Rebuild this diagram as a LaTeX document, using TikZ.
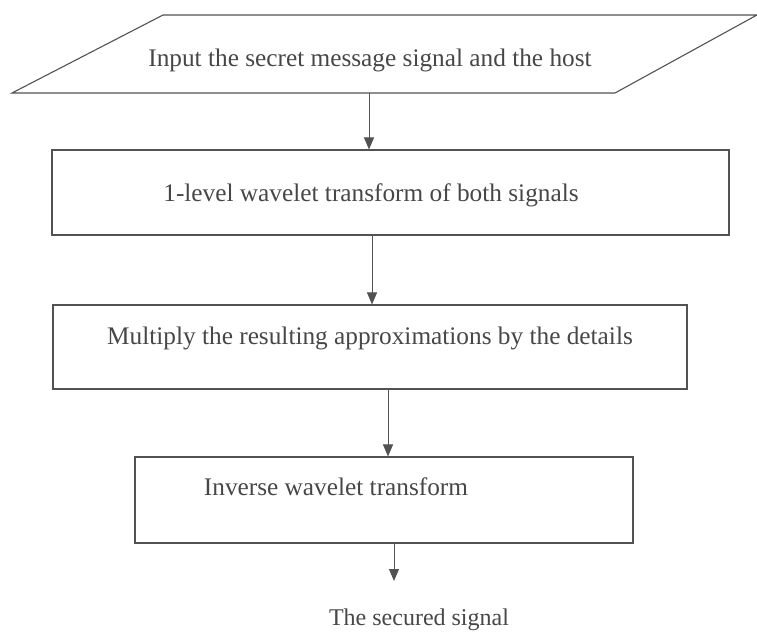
\documentclass[tikz,border=0pt]{standalone}
\usepackage{fontspec}
\setmainfont{Liberation Serif}
\usetikzlibrary{arrows.meta}
\definecolor{ink}{gray}{0.32}
\definecolor{txtc}{gray}{0.28}
\tikzset{
  shapeline/.style={draw=ink, line width=1.1pt},
  procbox/.style={shapeline, rectangle, inner sep=0pt},
  lbl/.style={text=txtc, font=\fontsize{25.3}{29}\selectfont, inner sep=0pt},
  outlbl/.style={text=txtc, font=\fontsize{24}{28}\selectfont, inner sep=0pt},
  arr/.style={draw=ink, line width=0.9pt, -{Triangle[length=12pt,width=10pt]}}
}
\begin{document}
\begin{tikzpicture}[x=1pt,y=-1pt]
\useasboundingbox (0,0) rectangle (757,632);
% input parallelogram
\coordinate (p1) at (163,15);
\coordinate (p2) at (757,15);
\coordinate (p3) at (615,93);
\coordinate (p4) at (12,93);
\draw[shapeline] (p1) -- (p2) -- (p3) -- (p4) -- cycle;
\node[lbl] (t0) at (370,60) {Input the secret message signal and the host};
\coordinate (a0) at (369,93);
% process boxes
\node[procbox, minimum width=677pt, minimum height=85pt] (b1) at (390.5,192.5) {};
\node[lbl] (t1) at (371,195) {1-level wavelet transform of both signals};
\node[procbox, minimum width=634pt, minimum height=84pt] (b2) at (370,347) {};
\node[lbl] (t2) at (370,338) {Multiply the resulting approximations by the details};
\node[procbox, minimum width=498pt, minimum height=86pt] (b3) at (384,500) {};
\node[lbl] (t3) at (336,487) {Inverse wavelet transform};
% output
\coordinate (e) at (394,581);
\node[outlbl] (t4) at (419,620) {The secured signal};
% connectors
\draw[arr] (a0) -- (a0 |- b1.north);
\draw[arr] (372,0 |- b1.south) -- (372,0 |- b2.north);
\draw[arr] (388,0 |- b2.south) -- (388,0 |- b3.north);
\draw[arr] (e |- b3.south) -- (e);
\end{tikzpicture}
\end{document}
